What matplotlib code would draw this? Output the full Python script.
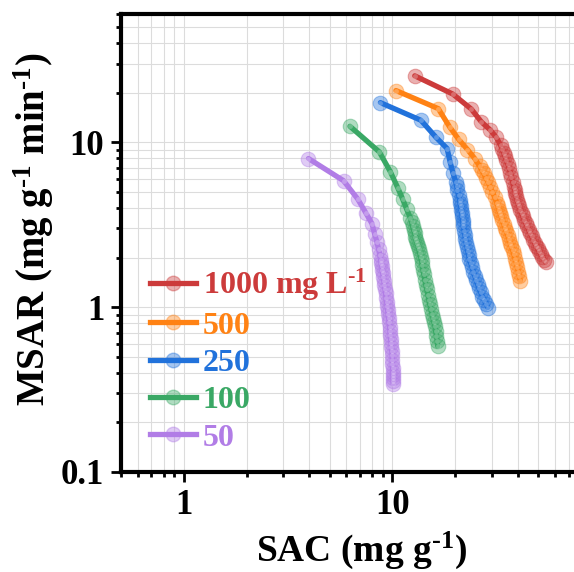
import matplotlib
matplotlib.use('Agg')
import matplotlib.pyplot as plt
from matplotlib.lines import Line2D
from matplotlib.ticker import LogLocator, FixedLocator, NullFormatter

plt.rcParams['font.family'] = ['Liberation Serif', 'DejaVu Serif']
plt.rcParams['font.weight'] = 'bold'
plt.rcParams['axes.labelweight'] = 'bold'
plt.rcParams['mathtext.fontset'] = 'custom'
plt.rcParams['mathtext.rm'] = 'Liberation Serif:bold'
plt.rcParams['mathtext.it'] = 'Liberation Serif:bold'
plt.rcParams['mathtext.bf'] = 'Liberation Serif:bold'

labels = [r'1000 mg L$^{\text{-}1}$', '500', '250', '100', '50']
colors = ['#cc3b3b', '#ff8214', '#2172db', '#3aa865', '#b17de6']

# SAC (mg g-1) and MSAR (mg g-1 min-1)
sac_1000 = [12.8, 19.5, 23.9, 26.7, 29.4, 31.5, 33.0, 33.6, 34.2, 34.7, 35.2, 35.8,
            36.3, 36.8, 37.2, 37.7, 38.2, 38.6, 38.9, 39.3, 39.6, 40.1, 40.6, 41.1,
            41.6, 42.2, 42.9, 43.6, 44.3, 45.0, 45.8, 46.5, 47.3, 48.1, 48.9, 49.7,
            50.5, 51.4, 52.4, 53.4, 54.4]
msar_1000 = [25.3, 19.6, 15.9, 13.3, 11.9, 10.7, 9.6, 9.1, 8.62, 8.2, 7.8, 7.35,
             6.95, 6.55, 6.18, 5.75, 5.38, 5.12, 4.92, 4.70, 4.48, 4.27, 4.08, 3.90,
             3.72, 3.55, 3.38, 3.23, 3.09, 2.95, 2.82, 2.69, 2.57, 2.46, 2.36, 2.27,
             2.18, 2.10, 2.02, 1.94, 1.87]

sac_500 = [10.4, 16.6, 18.8, 20.8, 22.9, 24.8, 26.2, 26.8, 27.4, 28.0, 28.7, 29.4,
           30.1, 30.9, 31.7, 32.1, 32.5, 32.9, 33.3, 33.7, 34.2, 34.7, 35.2, 35.7,
           36.2, 36.7, 37.2, 37.7, 38.2, 38.7, 39.3, 39.7, 40.2, 40.6, 41.1]
msar_500 = [20.6, 16.0, 12.4, 10.4, 9.04, 7.97, 7.17, 6.80, 6.48, 6.10, 5.77, 5.38,
            5.02, 4.64, 4.28, 4.08, 3.90, 3.72, 3.55, 3.37, 3.20, 3.03, 2.88, 2.73,
            2.60, 2.46, 2.34, 2.21, 2.09, 1.97, 1.86, 1.75, 1.64, 1.54, 1.44]

sac_250 = [8.76, 13.7, 16.2, 18.3, 18.9, 19.5, 20.1, 20.3, 20.5, 20.75, 21.0, 21.1,
           21.25, 21.4, 21.5, 21.6, 21.7, 21.8, 21.9, 22.1, 22.25, 22.4, 22.6, 22.8,
           23.0, 23.2, 23.4, 23.75, 24.1, 24.45, 24.8, 25.2, 25.6, 26.0, 26.5, 27.0,
           27.6, 28.1, 28.7]
msar_250 = [17.4, 13.6, 10.7, 9.16, 7.61, 6.53, 5.77, 5.45, 5.14, 4.80, 4.48, 4.27,
            4.08, 3.90, 3.72, 3.55, 3.38, 3.23, 3.09, 2.91, 2.75, 2.60, 2.45, 2.31,
            2.18, 2.06, 1.95, 1.84, 1.74, 1.64, 1.55, 1.46, 1.38, 1.30, 1.23, 1.16,
            1.10, 1.05, 0.995]

sac_100 = [6.26, 8.66, 9.78, 10.6, 11.2, 11.7, 12.2, 12.35, 12.5, 12.65, 12.8, 12.9,
           13.0, 13.15, 13.3, 13.4, 13.5, 13.65, 13.8, 13.9, 14.0, 14.15, 14.3, 14.45,
           14.6, 14.8, 14.95, 15.1, 15.3, 15.5, 15.65, 15.8, 16.0, 16.1, 16.25, 16.4,
           16.5]
msar_100 = [12.5, 8.74, 6.62, 5.31, 4.52, 3.93, 3.47, 3.28, 3.09, 2.94, 2.80, 2.68,
            2.57, 2.45, 2.34, 2.24, 2.14, 2.02, 1.90, 1.79, 1.69, 1.58, 1.47, 1.37,
            1.28, 1.19, 1.11, 1.04, 0.97, 0.91, 0.86, 0.81, 0.77, 0.72, 0.67, 0.62,
            0.58]

sac_50 = [3.96, 5.83, 6.81, 7.44, 7.98, 8.22, 8.44, 8.59, 8.70, 8.78, 8.83, 8.88,
          8.93, 8.98, 9.04, 9.10, 9.16, 9.22, 9.28, 9.33, 9.38, 9.43, 9.49, 9.54,
          9.59, 9.64, 9.69, 9.73, 9.77, 9.81, 9.86, 9.90, 9.94, 9.97, 9.99, 10.0,
          10.02, 10.03, 10.05, 10.06, 10.07, 10.08]
msar_50 = [7.97, 5.85, 4.54, 3.75, 3.21, 2.78, 2.47, 2.24, 2.08, 1.94, 1.85, 1.77,
           1.69, 1.62, 1.53, 1.44, 1.36, 1.28, 1.21, 1.14, 1.08, 1.02, 0.96, 0.91,
           0.86, 0.81, 0.76, 0.72, 0.68, 0.641, 0.605, 0.57, 0.54, 0.509, 0.48, 0.455,
           0.43, 0.405, 0.385, 0.37, 0.355, 0.344]

series = [(sac_1000, msar_1000), (sac_500, msar_500), (sac_250, msar_250),
          (sac_100, msar_100), (sac_50, msar_50)]

fig = plt.figure(figsize=(5.74, 5.72), dpi=100)
ax = fig.add_axes([121 / 574, 100 / 572, 480 / 574, 458 / 572])
ax.set_xscale('log')
ax.set_yscale('log')

handles = []
for (x, y), c, lab in zip(series, colors, labels):
    rgba = matplotlib.colors.to_rgba(c, 0.4)
    ax.plot(x, y, '-', color=c, lw=3.8, solid_capstyle='round', zorder=3)
    ax.plot(x, y, 'o', ms=10.5, mfc=rgba, mec=rgba, mew=0.8, zorder=4)
    ax.plot(x, y, 'o', ms=3.5, mfc=(1, 1, 1, 0.25), mec='none', zorder=5)
    handles.append(Line2D([], [], color=c, lw=3.8, marker='o', ms=10.5,
                          mfc=rgba, mec=rgba, label=lab))

ax.set_xlim(0.5, 100)
ax.set_ylim(0.1, 60)

ax.xaxis.set_major_locator(FixedLocator([1, 10]))
ax.yaxis.set_major_locator(FixedLocator([0.1, 1, 10]))
ax.xaxis.set_minor_locator(LogLocator(base=10, subs=range(2, 10)))
ax.yaxis.set_minor_locator(LogLocator(base=10, subs=range(2, 10)))
ax.xaxis.set_minor_formatter(NullFormatter())
ax.yaxis.set_minor_formatter(NullFormatter())
ax.set_xticklabels(['1', '10'])
ax.set_yticklabels(['0.1', '1', '10'])

ax.grid(True, which='both', color='#dcdcdc', lw=0.8)
ax.set_axisbelow(True)

for s in ['left', 'bottom', 'top']:
    ax.spines[s].set_linewidth(3)
ax.spines['right'].set_visible(False)

ax.tick_params(which='major', direction='out', length=7, width=2, labelsize=25, pad=5)
ax.tick_params(which='minor', direction='out', length=3.5, width=2)
ax.tick_params(top=False, right=False)

ax.set_xlabel('SAC (mg g$^{\\text{-}1}$)', fontsize=27, labelpad=6)
ax.set_ylabel('MSAR (mg g$^{\\text{-}1}$ min$^{\\text{-}1}$)', fontsize=28)
ax.yaxis.set_label_coords(-0.135, 0.53)

leg = ax.legend(handles=handles, loc='upper left', bbox_to_anchor=(150 / 574, 1 - 267 / 572),
                bbox_transform=fig.transFigure, frameon=False, fontsize=23,
                handlelength=1.45, handletextpad=0.2, labelspacing=0.25,
                borderpad=0, borderaxespad=0, numpoints=1, labelcolor='linecolor')

fig.savefig('out.png', dpi=100)
